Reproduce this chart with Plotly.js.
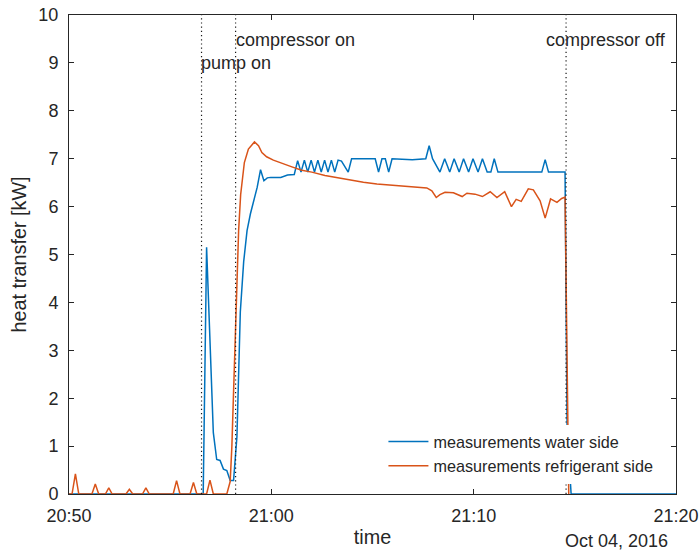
<!DOCTYPE html>
<html>
<head>
<meta charset="utf-8">
<script src="https://cdn.plot.ly/plotly-3.0.1.min.js"></script>
<style>
  html, body { margin: 0; padding: 0; background: #fff; }
  #chart { width: 700px; height: 554px; }
</style>
</head>
<body>
<div id="chart"></div>
<script>
// Heat transfer measured on the water side and on the refrigerant side, 4 Oct 2016
const day = '2016-10-04 ';

const waterTimes = [
  '20:50:00', '20:56:38', '20:56:48', '20:56:58', '20:57:08', '20:57:18', '20:57:28',
  '20:57:38', '20:57:48', '20:57:58', '20:58:08', '20:58:18', '20:58:28', '20:58:38',
  '20:58:48', '20:58:58', '20:59:08', '20:59:18', '20:59:28', '20:59:38', '20:59:48',
  '20:59:58', '21:00:28', '21:00:48', '21:01:08', '21:01:18', '21:01:28', '21:01:38',
  '21:01:48', '21:01:58', '21:02:08', '21:02:18', '21:02:28', '21:02:38', '21:02:48',
  '21:02:58', '21:03:08', '21:03:18', '21:03:28', '21:03:38', '21:03:48', '21:03:58',
  '21:05:08', '21:05:18', '21:05:28', '21:05:38', '21:05:48', '21:05:58', '21:06:28',
  '21:06:58', '21:07:38', '21:07:48', '21:07:58', '21:08:20', '21:08:34', '21:08:49',
  '21:09:02', '21:09:17', '21:09:30', '21:09:45', '21:09:58', '21:10:13', '21:10:26',
  '21:10:40', '21:10:51', '21:11:01', '21:11:12', '21:13:22', '21:13:32', '21:13:42',
  '21:14:31', '21:14:37', '21:14:49', '21:20:00'
];
const waterKW = [
  0, 0, 5.15, 3.0, 1.28, 0.72, 0.70,
  0.52, 0.49, 0.28, 0.28, 1.2, 3.8, 4.85,
  5.5, 5.85, 6.1, 6.4, 6.77, 6.54, 6.6,
  6.61, 6.61, 6.66, 6.67, 6.96, 6.72, 6.97,
  6.72, 6.97, 6.72, 6.97, 6.72, 6.97, 6.72,
  6.97, 6.72, 6.97, 6.95, 6.84, 6.72, 7.0,
  7.0, 6.72, 7.0, 7.0, 6.72, 7.0, 6.99,
  6.98, 7.0, 7.27, 7.0, 6.72, 7.0, 6.72,
  7.0, 6.72, 7.0, 6.72, 7.0, 6.72, 7.0,
  6.72, 6.72, 7.0, 6.72, 6.72, 6.98, 6.72,
  6.72, 1.4, 0, 0
];

const refrigerantTimes = [
  '20:50:00', '20:50:09', '20:50:19', '20:50:29', '20:51:08', '20:51:18', '20:51:28',
  '20:51:48', '20:51:58', '20:52:08', '20:52:49', '20:52:59', '20:53:09', '20:53:38',
  '20:53:48', '20:53:58', '20:55:09', '20:55:19', '20:55:29', '20:55:59', '20:56:09',
  '20:56:19', '20:56:48', '20:56:58', '20:57:08', '20:57:48', '20:57:58', '20:58:03',
  '20:58:23', '20:58:29', '20:58:40', '20:58:52', '20:59:10', '20:59:22', '20:59:32',
  '20:59:46', '21:00:06', '21:00:31', '21:01:01', '21:01:30', '21:02:00', '21:02:39',
  '21:03:19', '21:03:53', '21:04:33', '21:05:13', '21:06:12', '21:06:51', '21:07:41',
  '21:07:56', '21:08:09', '21:08:20', '21:08:35', '21:09:00', '21:09:26', '21:09:40',
  '21:10:04', '21:10:26', '21:10:49', '21:11:09', '21:11:32', '21:11:52', '21:12:06',
  '21:12:21', '21:12:42', '21:12:57', '21:13:17', '21:13:32', '21:13:48', '21:14:07',
  '21:14:21', '21:14:31', '21:14:39', '21:14:42'
];
const refrigerantKW = [
  0, 0, 0.42, 0, 0, 0.21, 0,
  0, 0.13, 0, 0, 0.10, 0, 0,
  0.13, 0, 0, 0.28, 0, 0, 0.24,
  0, 0, 0.29, 0, 0, 0.26, 1.0,
  5.5, 6.25, 6.92, 7.2, 7.35, 7.27, 7.13,
  7.04, 6.97, 6.9, 6.83, 6.76, 6.72, 6.65,
  6.6, 6.55, 6.51, 6.47, 6.44, 6.42, 6.39,
  6.33, 6.19, 6.25, 6.3, 6.29, 6.21, 6.28,
  6.26, 6.21, 6.31, 6.19, 6.31, 6.0, 6.15,
  6.11, 6.37, 6.35, 6.12, 5.76, 6.16, 6.09,
  6.17, 6.2, 1.45, 0
];

// Switching events marked with dotted lines
const eventTimes = ['20:56:33', '20:58:14', '21:14:34'];
const eventLabels = ['pump on', 'compressor on', 'compressor off'];

const xTicks = ['20:50:00', '21:00:00', '21:10:00', '21:20:00'];
const xTickText = ['20:50', '21:00', '21:10', '21:20'];
const yTicks = [0, 1, 2, 3, 4, 5, 6, 7, 8, 9, 10];

const stamp = t => day + t;
const ink = '#262626';
const family = '"Liberation Sans", Arial, Helvetica, sans-serif';
const tickFont = { family: family, size: 18, color: ink };
const legendFont = { family: family, size: 16.2, color: ink };
const titleFont = { family: family, size: 19.8, color: ink };

const traces = [
  {
    x: waterTimes.map(stamp), y: waterKW,
    type: 'scatter', mode: 'lines',
    name: 'measurements water side', legendgroup: 'w',
    line: { color: '#0072BD', width: 1.5 }
  },
  {
    x: refrigerantTimes.map(stamp), y: refrigerantKW,
    type: 'scatter', mode: 'lines',
    name: 'measurements refrigerant side', legendgroup: 'r',
    line: { color: '#D95319', width: 1.5 }
  }
];

const shapes = eventTimes.map(t => ({
  type: 'line', xref: 'x', yref: 'paper',
  x0: stamp(t), x1: stamp(t), y0: 0, y1: 1,
  line: { color: '#1a1a1a', width: 1.2, dash: '1.2px,3px' }
}));

// label placement for each event: height in kW and horizontal nudge in px
const labelStyle = [
  { y: 9.0, xshift: -3 },
  { y: 9.48, xshift: -2 },
  { y: 9.48, xshift: -22 }
];
const annotations = eventLabels.map((txt, i) => ({
  x: stamp(eventTimes[i]), y: labelStyle[i].y, xref: 'x', yref: 'y',
  text: txt, showarrow: false, xanchor: 'left', yanchor: 'middle',
  xshift: labelStyle[i].xshift, font: tickFont
}));
annotations.push({
  x: 0.99, y: -0.098, xref: 'paper', yref: 'paper',
  text: 'Oct 04, 2016', showarrow: false, xanchor: 'right', yanchor: 'middle',
  font: tickFont
});

const layout = {
  width: 700, height: 554,
  margin: { l: 69, r: 24, t: 15, b: 60 },
  paper_bgcolor: '#fff', plot_bgcolor: '#fff',
  font: tickFont,
  showlegend: true,
  legend: {
    x: 0.518, y: 0.145, xanchor: 'left', yanchor: 'top',
    bgcolor: '#fff', borderwidth: 0, font: legendFont,
    itemwidth: 40, traceorder: 'grouped', tracegroupgap: 0
  },
  xaxis: {
    type: 'date',
    range: [stamp('20:50:00'), stamp('21:20:00')],
    tickmode: 'array', tickvals: xTicks.map(stamp), ticktext: xTickText,
    ticks: 'inside', ticklen: 5, tickcolor: ink, tickwidth: 1,
    ticklabelstandoff: 5,
    showline: true, linecolor: ink, linewidth: 1, mirror: 'ticks',
    showgrid: false, zeroline: false,
    tickfont: tickFont,
    title: { text: 'time', font: titleFont, standoff: 5 }
  },
  yaxis: {
    range: [0, 10],
    tickmode: 'array', tickvals: yTicks,
    ticks: 'inside', ticklen: 5, tickcolor: ink, tickwidth: 1,
    ticklabelstandoff: 6,
    showline: true, linecolor: ink, linewidth: 1, mirror: 'ticks',
    showgrid: false, zeroline: false,
    tickfont: tickFont,
    title: { text: 'heat transfer [kW]', font: titleFont, standoff: 6 }
  },
  shapes: shapes,
  annotations: annotations
};

Plotly.newPlot('chart', traces, layout, { displayModeBar: false, staticPlot: true });
</script>
</body>
</html>
